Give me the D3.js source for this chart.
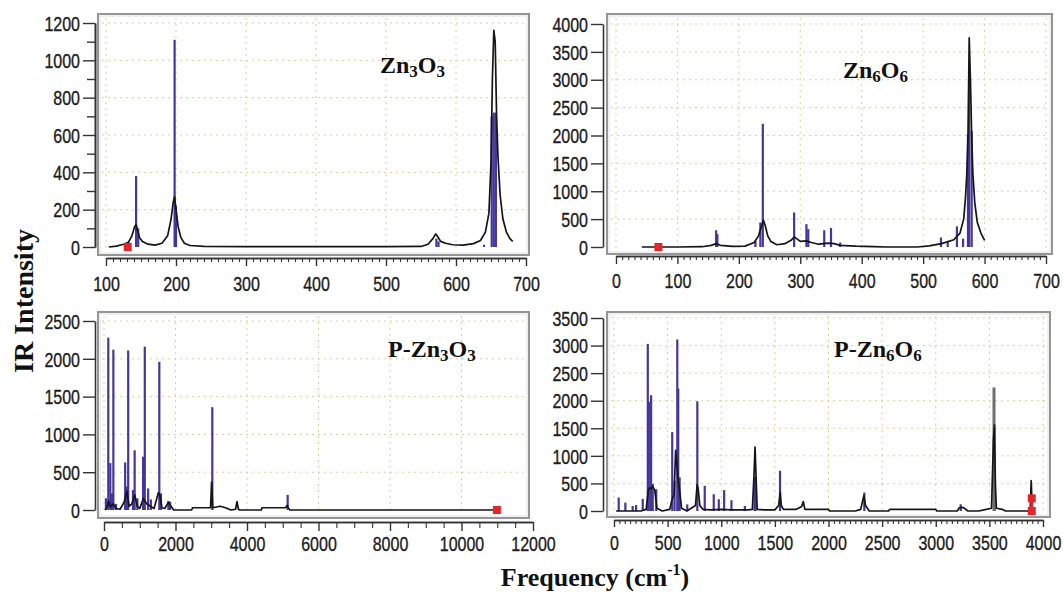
<!DOCTYPE html>
<html><head><meta charset="utf-8">
<script src="https://cdn.jsdelivr.net/npm/d3@7"></script>
<style>
html,body{margin:0;padding:0;background:#fff;}
svg{display:block;}
</style></head><body>
<svg id="chart" width="1063" height="593"></svg>
<script>
// ---------- DATA ----------
// Zn3O3
const zn3o3StickFreq = [132, 143, 146, 198, 200, 572, 575, 640, 651, 654, 657];
const zn3o3StickInt  = [25, 380, 100, 1110, 220, 45, 30, 12, 700, 720, 720];
const zn3o3CurveFreq = [104,115,125,132,137,141,143,145,148,152,160,170,180,188,193,196,198,200,203,207,212,220,240,300,400,500,550,560,567,571,574,578,585,595,610,625,635,642,647,650,652,654,656,658,660,663,667,672,677,681];
const zn3o3CurveInt  = [0,5,15,25,60,110,120,90,50,30,15,10,20,60,150,240,270,200,110,50,20,8,3,2,2,2,3,15,45,70,55,30,20,12,10,18,35,80,180,450,900,1160,1100,700,480,280,150,80,45,30];
const zn3o3MarkerFreq = [131];
const zn3o3MarkerInt  = [0];
const zn3o3XTicks = [100, 200, 300, 400, 500, 600, 700];
const zn3o3YTicks = [0, 200, 400, 600, 800, 1000, 1200];

// Zn6O6
const zn6o6StickFreq = [163,165,227,235,239,290,310,313,339,350,365,529,540,555,565,573,575,579];
const zn6o6StickInt  = [300,230,110,440,2210,620,410,320,300,340,80,170,110,370,150,2020,3160,2080];
const zn6o6CurveFreq = [42,100,140,155,163,170,190,210,225,232,237,240,243,247,252,262,275,285,290,294,300,310,318,330,345,355,365,390,420,440,490,510,530,550,560,566,569,571,573,575,577,579,581,584,588,594,600];
const zn6o6CurveInt  = [0,0,5,30,60,30,10,15,80,200,380,480,380,200,100,40,60,120,180,150,100,110,80,50,70,60,30,15,8,0,0,20,60,130,250,500,900,1300,2000,3750,3000,2000,1300,800,450,250,120];
const zn6o6MarkerFreq = [69];
const zn6o6MarkerInt  = [0];
const zn6o6XTicks = [0, 100, 200, 300, 400, 500, 600, 700];
const zn6o6YTicks = [0, 500, 1000, 1500, 2000, 2500, 3000, 3500, 4000];

// P-Zn3O3
const pzn3o3StickFreq = [53,120,176,224,262,337,592,640,677,810,857,933,1093,1141,1235,1311,1547,1594,1801,1849,3030,5138];
const pzn3o3StickInt  = [155,2280,620,220,2120,80,630,310,2110,265,790,155,705,2160,285,140,1960,220,120,110,1360,200];
const pzn3o3CurveFreq = [30,80,130,180,260,330,450,560,640,700,780,860,930,1000,1100,1200,1300,1400,1520,1560,1620,1700,1800,1860,1950,2450,2480,2980,3010,3040,3150,3250,3400,3550,3680,3720,3760,3800,4400,4420,5080,5120,5150,5200,11000];
const pzn3o3CurveInt  = [0,30,120,40,80,20,10,100,250,50,80,200,50,20,150,80,50,20,230,200,30,20,100,60,0,0,30,30,370,30,40,50,30,0,10,110,10,0,0,30,30,60,30,0,0];
const pzn3o3MarkerFreq = [10990];
const pzn3o3MarkerInt  = [0];
const pzn3o3XTicks = [0, 2000, 4000, 6000, 8000, 10000, 12000];
const pzn3o3YTicks = [0, 500, 1000, 1500, 2000, 2500];

// P-Zn6O6
const pzn6o6StickFreq = [44,106,174,206,268,315,325,346,361,394,543,565,590,599,612,683,777,846,930,977,1027,1095,1220,1310,1320,1548,2334,3233,3548];
const pzn6o6StickInt  = [244,152,91,109,220,3030,1980,2100,490,395,1430,550,3110,2220,610,120,1990,456,304,213,378,195,91,609,620,730,335,122,517];
const pzn6o6GrayFreq  = [3543];
const pzn6o6GrayInt   = [2240];
const pzn6o6CurveFreq = [20,250,300,320,330,345,360,380,400,450,520,540,560,575,585,595,610,630,680,760,775,785,800,830,900,1000,1100,1250,1290,1305,1315,1325,1335,1400,1500,1535,1550,1560,1580,1700,1750,1765,1780,2000,2010,2250,2300,2330,2345,2380,2560,2570,3000,3010,3200,3220,3260,3300,3400,3450,3520,3538,3548,3556,3565,3620,3650,3880,3890,3900];
const pzn6o6CurveInt  = [0,0,30,380,420,400,450,380,50,0,30,200,300,1100,900,600,400,50,0,100,480,400,100,30,20,30,20,20,30,640,1160,600,30,20,20,100,340,100,30,30,80,170,30,30,0,0,30,280,100,0,0,30,30,0,0,60,60,0,0,20,50,1300,1560,500,50,30,0,0,550,0];
const pzn6o6MarkerFreq = [3895, 3895];
const pzn6o6MarkerInt  = [0, 230];
const pzn6o6XTicks = [0, 500, 1000, 1500, 2000, 2500, 3000, 3500, 4000];
const pzn6o6YTicks = [0, 500, 1000, 1500, 2000, 2500, 3000, 3500];

// ---------- LAYOUT ----------
const STICK = "#44369c";
const GRID = "#d8d49c";
const AX = "#333";

const panels = [
  { title: [["Zn",0],["3",1],["O",0],["3",1]], titleX: 380, titleY: 73,
    xDomain: [100, 700], xRange: [106, 526], yDomain: [0, 1200], yRange: [247, 23],
    frame: [98, 14, 529, 255], yAxisX: 95, xAxisY: 258, xLabelBase: 291,
    xTicks: zn3o3XTicks, xMinorStep: 10, xMajorLen: 8, xMinorLen: 4,
    yTicks: zn3o3YTicks, yMinorStep: 100,
    sf: zn3o3StickFreq, si: zn3o3StickInt, cf: zn3o3CurveFreq, ci: zn3o3CurveInt,
    mf: zn3o3MarkerFreq, mi: zn3o3MarkerInt },
  { title: [["Zn",0],["6",1],["O",0],["6",1]], titleX: 843, titleY: 78,
    xDomain: [0, 700], xRange: [616, 1046], yDomain: [0, 4000], yRange: [247, 24],
    frame: [607, 14, 1052, 254], yAxisX: 603, xAxisY: 256, xLabelBase: 288,
    xTicks: zn6o6XTicks, xMinorStep: 10, xMajorLen: 8, xMinorLen: 4,
    yTicks: zn6o6YTicks, yMinorStep: 0,
    sf: zn6o6StickFreq, si: zn6o6StickInt, cf: zn6o6CurveFreq, ci: zn6o6CurveInt,
    mf: zn6o6MarkerFreq, mi: zn6o6MarkerInt },
  { title: [["P-Zn",0],["3",1],["O",0],["3",1]], titleX: 388, titleY: 357,
    xDomain: [0, 12000], xRange: [104, 533], yDomain: [0, 2500], yRange: [510, 321],
    frame: [98, 312, 529, 518], yAxisX: 95, xAxisY: 522, xLabelBase: 551,
    xTicks: pzn3o3XTicks, xMinorStep: 500, xMajorLen: 9, xMinorLen: 6,
    yTicks: pzn3o3YTicks, yMinorStep: 0,
    sf: pzn3o3StickFreq, si: pzn3o3StickInt, cf: pzn3o3CurveFreq, ci: pzn3o3CurveInt,
    mf: pzn3o3MarkerFreq, mi: pzn3o3MarkerInt },
  { title: [["P-Zn",0],["6",1],["O",0],["6",1]], titleX: 834, titleY: 357,
    xDomain: [0, 4000], xRange: [614, 1043], yDomain: [0, 3500], yRange: [511, 318],
    frame: [607, 312, 1050, 517], yAxisX: 603, xAxisY: 520, xLabelBase: 550,
    xTicks: pzn6o6XTicks, xMinorStep: 50, xMajorLen: 7, xMinorLen: 4,
    yTicks: pzn6o6YTicks, yMinorStep: 0,
    sf: pzn6o6StickFreq, si: pzn6o6StickInt, cf: pzn6o6CurveFreq, ci: pzn6o6CurveInt,
    gf: pzn6o6GrayFreq, gi: pzn6o6GrayInt,
    mf: pzn6o6MarkerFreq, mi: pzn6o6MarkerInt, markerLink: true }
];

const svg = d3.select("#chart");

function styleAxis(g) {
  g.select(".domain").attr("stroke", AX).attr("stroke-width", 1.6);
  g.selectAll(".tick line").attr("stroke", AX).attr("stroke-width", 1.4);
}

panels.forEach(p => {
  const g = svg.append("g");
  const x = d3.scaleLinear().domain(p.xDomain).range(p.xRange);
  const y = d3.scaleLinear().domain(p.yDomain).range(p.yRange);
  const [fx0, fy0, fx1, fy1] = p.frame;

  // frame
  g.append("rect").attr("x", fx0).attr("y", fy0).attr("width", fx1 - fx0).attr("height", fy1 - fy0)
    .attr("fill", "#fff").attr("stroke", "#959595").attr("stroke-width", 2);
  g.append("rect").attr("x", fx0 + 2).attr("y", fy0 + 2).attr("width", fx1 - fx0 - 4).attr("height", fy1 - fy0 - 4)
    .attr("fill", "none").attr("stroke", "#e2e2e2").attr("stroke-width", 1);

  // grid
  const grid = g.append("g").attr("stroke", GRID).attr("stroke-width", 1).attr("stroke-dasharray", "2,4");
  p.xTicks.forEach(t => {
    const xx = x(t);
    if (xx > fx0 + 3 && xx < fx1 - 3)
      grid.append("line").attr("x1", xx).attr("x2", xx).attr("y1", fy0 + 4).attr("y2", fy1 - 4);
  });
  p.yTicks.forEach(t => {
    const yy = y(t);
    if (yy > fy0 + 3 && yy < fy1 - 3 && t !== 0)
      grid.append("line").attr("y1", yy).attr("y2", yy).attr("x1", fx0 + 4).attr("x2", fx1 - 4);
  });

  // sticks
  const sticks = p.sf.map((f, i) => ({ f, v: p.si[i] }));
  g.append("g").selectAll("line").data(sticks).join("line")
    .attr("x1", d => x(d.f)).attr("x2", d => x(d.f))
    .attr("y1", y(0)).attr("y2", d => y(d.v))
    .attr("stroke", STICK).attr("stroke-width", 2.2);

  if (p.gf) {
    const gs = p.gf.map((f, i) => ({ f, v: p.gi[i] }));
    g.append("g").selectAll("line").data(gs).join("line")
      .attr("x1", d => x(d.f)).attr("x2", d => x(d.f))
      .attr("y1", y(0)).attr("y2", d => y(d.v))
      .attr("stroke", "#6e6e6e").attr("stroke-width", 3);
  }

  // curve
  const curve = p.cf.map((f, i) => ({ f, v: p.ci[i] }));
  g.append("path").datum(curve)
    .attr("d", d3.line().x(d => x(d.f)).y(d => y(d.v)))
    .attr("fill", "none").attr("stroke", "#151515").attr("stroke-width", 1.7)
    .attr("stroke-linejoin", "round");

  // markers
  const marks = p.mf.map((f, i) => ({ f, v: p.mi[i] }));
  if (p.markerLink) {
    g.append("line").attr("x1", x(marks[0].f)).attr("x2", x(marks[0].f))
      .attr("y1", y(marks[0].v)).attr("y2", y(marks[marks.length - 1].v))
      .attr("stroke", "#e3262b").attr("stroke-width", 3);
  }
  g.append("g").selectAll("rect").data(marks).join("rect")
    .attr("x", d => x(d.f) - 4).attr("y", d => y(d.v) - 4)
    .attr("width", 8).attr("height", 8).attr("fill", "#e3262b");

  const labelStyle = sel => sel
    .attr("font-family", "'Liberation Sans', Arial, sans-serif")
    .attr("font-size", 20).attr("fill", "#1c1c1c")
    .attr("stroke", "#1c1c1c").attr("stroke-width", 0.35);

  // y axis
  if (p.yMinorStep) {
    const minors = d3.range(p.yDomain[0], p.yDomain[1] + 1, p.yMinorStep).filter(v => !p.yTicks.includes(v));
    const ym = g.append("g").attr("transform", `translate(${p.yAxisX},0)`)
      .call(d3.axisLeft(y).tickValues(minors).tickSize(8).tickSizeOuter(0).tickFormat(""));
    styleAxis(ym);
  }
  const ya = g.append("g").attr("transform", `translate(${p.yAxisX},0)`)
    .call(d3.axisLeft(y).tickValues(p.yTicks).tickSize(12).tickSizeOuter(0).tickFormat(d3.format("d")));
  styleAxis(ya);
  ya.selectAll(".tick text")
    .attr("x", null).attr("dy", "0.36em")
    .attr("transform", "translate(-15,0) scale(0.8,1)")
    .attr("text-anchor", "end")
    .call(labelStyle);

  // x axis
  const xminors = d3.range(p.xDomain[0], p.xDomain[1] + 1, p.xMinorStep).filter(v => !p.xTicks.includes(v));
  const xm = g.append("g").attr("transform", `translate(0,${p.xAxisY})`)
    .call(d3.axisBottom(x).tickValues(xminors).tickSize(p.xMinorLen).tickSizeOuter(0).tickFormat(""));
  styleAxis(xm);
  xm.selectAll(".tick line").attr("stroke-width", 1.1);
  const xa = g.append("g").attr("transform", `translate(0,${p.xAxisY})`)
    .call(d3.axisBottom(x).tickValues(p.xTicks).tickSize(p.xMajorLen).tickSizeOuter(0).tickFormat(d3.format("d")));
  styleAxis(xa);
  xa.selectAll(".tick text")
    .attr("y", p.xLabelBase - p.xAxisY).attr("dy", 0)
    .attr("transform", "scale(0.8,1)")
    .call(labelStyle);

  // title
  const t = g.append("text").attr("x", p.titleX).attr("y", p.titleY)
    .attr("font-family", "'Liberation Serif', 'Times New Roman', serif")
    .attr("font-weight", "bold").attr("font-size", 24).attr("fill", "#111");
  let lowered = false;
  p.title.forEach(([s, sub]) => {
    const ts = t.append("tspan").text(s);
    if (sub && !lowered) { ts.attr("font-size", 17).attr("dy", 4); lowered = true; }
    else if (!sub && lowered) { ts.attr("dy", -4); lowered = false; }
    else if (sub) ts.attr("font-size", 17);
  });
});

// global axis titles
svg.append("text")
  .attr("transform", "translate(33,301) rotate(-90)")
  .attr("text-anchor", "middle")
  .attr("font-family", "'Liberation Serif', 'Times New Roman', serif")
  .attr("font-weight", "bold").attr("font-size", 28).attr("fill", "#111")
  .text("IR Intensity");

const fl = svg.append("text")
  .attr("x", 595).attr("y", 586).attr("text-anchor", "middle")
  .attr("font-family", "'Liberation Serif', 'Times New Roman', serif")
  .attr("font-weight", "bold").attr("font-size", 26).attr("fill", "#111");
fl.append("tspan").text("Frequency (cm");
fl.append("tspan").attr("font-size", 16).attr("dy", -11).text("-1");
fl.append("tspan").attr("dy", 11).text(")");
</script>
</body></html>
